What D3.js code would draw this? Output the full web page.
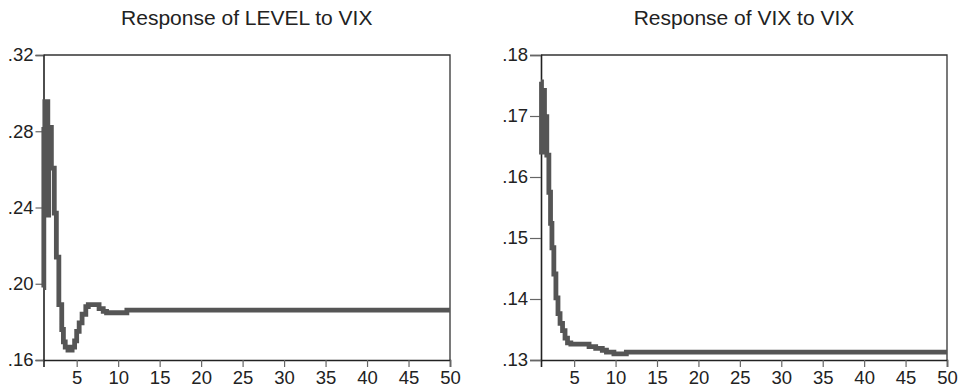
<!DOCTYPE html>
<html>
<head>
<meta charset="utf-8">
<script src="https://cdn.jsdelivr.net/npm/d3@7"></script>
<style>
  html, body { margin: 0; padding: 0; background: #fff; }
  svg { display: block; }
  text { font-family: "Liberation Sans", Arial, sans-serif; fill: #222; }
</style>
</head>
<body>
<svg id="chart" width="959" height="389"></svg>
<script>
// ---- data ----
const titleLeft = "Response of LEVEL to VIX";
const titleRight = "Response of VIX to VIX";

const xTicks = [5, 10, 15, 20, 25, 30, 35, 40, 45, 50];

const yTicksLeft = [0.16, 0.20, 0.24, 0.28, 0.32];
const yTickLabelsLeft = [".16", ".20", ".24", ".28", ".32"];
const yTicksRight = [0.13, 0.14, 0.15, 0.16, 0.17, 0.18];
const yTickLabelsRight = [".13", ".14", ".15", ".16", ".17", ".18"];

// response of LEVEL to VIX (period, value)
const periodsLeft = [1.00, 1.04, 1.10, 1.16, 1.52, 1.62, 1.95, 2.30, 2.55, 2.85, 3.20, 3.40, 3.62, 3.95, 4.45, 4.75, 5.00, 5.30, 5.65, 6.10, 6.40, 7.70, 8.20, 8.60, 11.05, 50];
const valuesLeft  = [0.198, 0.281, 0.240, 0.2955, 0.236, 0.282, 0.2607, 0.237, 0.214, 0.189, 0.176, 0.1695, 0.1668, 0.1652, 0.1668, 0.170, 0.175, 0.1795, 0.184, 0.188, 0.189, 0.187, 0.1855, 0.1848, 0.1862, 0.1862];

// response of VIX to VIX
const periodsRight = [1.00, 1.06, 1.12, 1.42, 1.70, 1.95, 2.15, 2.32, 2.55, 2.80, 3.05, 3.30, 3.60, 3.90, 4.20, 4.60, 6.80, 7.60, 8.40, 8.90, 9.80, 11.30, 50];
const valuesRight  = [0.1756, 0.1641, 0.1742, 0.1699, 0.1636, 0.1575, 0.1524, 0.1484, 0.1441, 0.1402, 0.1376, 0.1360, 0.1348, 0.1336, 0.1328, 0.1326, 0.1322, 0.1319, 0.1316, 0.1313, 0.1310, 0.1313, 0.1313];

// ---- drawing ----
const svg = d3.select("#chart");

function panel(cfg) {
  const g = svg.append("g");
  const x = d3.scaleLinear().domain([1, 50]).range([cfg.left, cfg.right]);
  const y = d3.scaleLinear().domain(cfg.yDomain).range([cfg.bottom, cfg.top]);

  // title
  g.append("text")
    .attr("x", (cfg.left + cfg.right) / 2)
    .attr("y", 25)
    .attr("text-anchor", "middle")
    .style("font-size", "21px")
    .text(cfg.title);

  // frame (top & right)
  g.append("path")
    .attr("d", `M${cfg.left},${cfg.top}H${cfg.right}V${cfg.bottom}`)
    .attr("fill", "none")
    .attr("stroke", "#333")
    .attr("stroke-width", 1.3);

  // x axis
  const xAxis = d3.axisBottom(x).tickValues(xTicks).tickSize(7).tickPadding(4).tickFormat(d3.format("d"));
  const gx = g.append("g").attr("transform", `translate(0,${cfg.bottom})`).call(xAxis);
  gx.select(".domain").attr("stroke", "#222").attr("stroke-width", 1.6);
  gx.selectAll(".tick line").attr("stroke", "#666").attr("stroke-width", 1.2);
  gx.selectAll("text").style("font-size", "18.5px").attr("fill", "#1a1a1a").style("font-family", '"Liberation Sans", Arial, sans-serif');

  // y axis
  const labelMap = new Map(cfg.yTicks.map((v, i) => [v, cfg.yLabels[i]]));
  const yAxis = d3.axisLeft(y).tickValues(cfg.yTicks).tickSize(cfg.tickLen).tickPadding(2)
    .tickFormat(d => labelMap.get(d));
  const gy = g.append("g").attr("transform", `translate(${cfg.left},0)`).call(yAxis);
  gy.select(".domain").attr("stroke", "#222").attr("stroke-width", 1.6);
  gy.selectAll(".tick line").attr("stroke", "#666").attr("stroke-width", 1.2);
  gy.selectAll("text").style("font-size", "18.5px").attr("fill", "#1a1a1a").style("font-family", '"Liberation Sans", Arial, sans-serif');

  // response line
  const data = cfg.periods.map((p, i) => [p, cfg.values[i]]);
  const line = d3.line().x(d => x(d[0])).y(d => y(d[1])).curve(d3.curveStepAfter);
  g.append("path")
    .datum(data)
    .attr("d", line)
    .attr("fill", "none")
    .attr("stroke", "#555")
    .attr("stroke-width", 4.8)
    .attr("stroke-linejoin", "miter");
}

panel({
  title: titleLeft, left: 43.5, right: 450, top: 55, bottom: 360,
  yDomain: [0.16, 0.32], yTicks: yTicksLeft, yLabels: yTickLabelsLeft, tickLen: 8,
  periods: periodsLeft, values: valuesLeft
});
panel({
  title: titleRight, left: 541, right: 947, top: 55, bottom: 360,
  yDomain: [0.13, 0.18], yTicks: yTicksRight, yLabels: yTickLabelsRight, tickLen: 11,
  periods: periodsRight, values: valuesRight
});
</script>
</body>
</html>
